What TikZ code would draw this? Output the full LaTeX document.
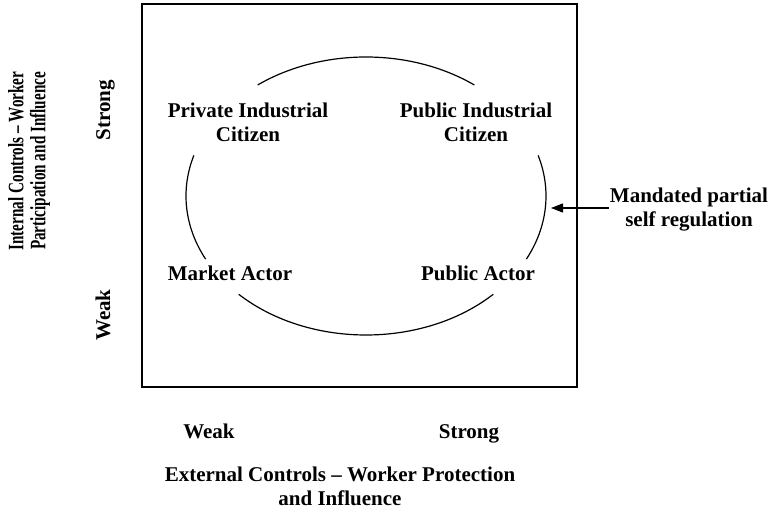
\documentclass[tikz,border=0pt]{standalone}
\usepackage{fontspec}
\setmainfont{Liberation Serif}
\usetikzlibrary{arrows.meta}
\begin{document}
\begin{tikzpicture}[x=1pt,y=1pt,
  lbl/.style={font=\fontsize{21}{24}\selectfont\bfseries, align=center, inner sep=1pt},
  curve/.style={line width=1.2pt},
  frame/.style={line width=1.5pt}]
\useasboundingbox (0,0) rectangle (772,512);
\draw[frame] (142,508) rectangle (577,125);
\coordinate (E) at (366,316);
\draw[curve] (E) ++(53:180 and 139) arc[start angle=53,end angle=127,x radius=180,y radius=139];
\draw[curve] (E) ++(163:180 and 139) arc[start angle=163,end angle=207,x radius=180,y radius=139];
\draw[curve] (E) ++(-27:180 and 139) arc[start angle=-27,end angle=17,x radius=180,y radius=139];
\draw[curve] (E) ++(225:180 and 139) arc[start angle=225,end angle=315,x radius=180,y radius=139];
\node[lbl] (pic) at (248,390) {Private Industrial\\Citizen};
\node[lbl] (puc) at (476,390) {Public Industrial\\Citizen};
\node[lbl] (ma) at (230,239) {Market Actor};
\node[lbl] (pa) at (478,239) {Public Actor};
\node[lbl] (msr) at (689,302) {Mandated partial\\self regulation};
\coordinate (tip) at (551,304);
\draw[line width=1.2pt,-{Triangle[length=12pt,width=9pt]}] (msr.west |- tip) -- (tip);
\node[lbl, font=\fontsize{22}{22}\selectfont\bfseries, rotate=90, xscale=0.69] (yaxis) at (29,351) {Internal Controls – Worker\\Participation and Influence};
\node[lbl, rotate=90, anchor=base] (ystrong) at (110,402) {Strong};
\node[lbl, rotate=90, anchor=base] (yweak) at (110,197) {Weak};
\node[lbl, anchor=base] (xweak) at (209,73) {Weak};
\node[lbl, anchor=base] (xstrong) at (469,73) {Strong};
\node[lbl] (xaxis) at (340,26) {External Controls – Worker Protection\\and Influence};
\end{tikzpicture}
\end{document}
